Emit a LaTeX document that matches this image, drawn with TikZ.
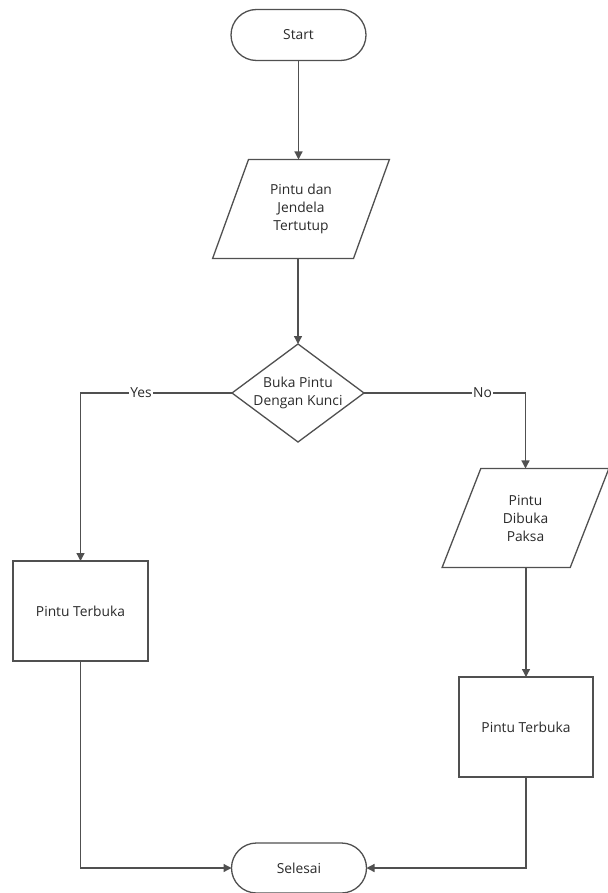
\documentclass[tikz,border=0pt]{standalone}
\usepackage{fontspec}
\setmainfont{Open Sans}
\usetikzlibrary{arrows.meta,shapes.geometric,shapes.misc}
\definecolor{linec}{HTML}{505050}
\definecolor{txtc}{HTML}{2A2A2A}
\begin{document}
\begin{tikzpicture}[x=1pt,y=-1pt,
  base/.style={draw=linec, line width=1.3pt, text=txtc, align=center, inner sep=0pt, outer sep=0pt,
    font=\fontsize{13.8}{18}\selectfont},
  term/.style={base, rounded rectangle, minimum width=135pt, minimum height=51pt},
  io/.style={base, trapezium, trapezium left angle=67, trapezium right angle=113,
    trapezium stretches=true, minimum height=99pt},
  decide/.style={base, diamond, shape aspect=1.35, inner sep=-3pt, minimum width=132pt, minimum height=98pt},
  proc/.style={base, rectangle, minimum width=135pt, minimum height=100pt},
  conn/.style={draw=linec, line width=1.3pt, -{Triangle[length=8pt,width=8pt]}},
  lab/.style={fill=white, text=txtc, inner sep=1pt, font=\fontsize{13.8}{15}\selectfont}]
\useasboundingbox[fill=white] (0,0) rectangle (607,893);
\node[term] (start) at (298.5,35) {Start};
\node[io, minimum width=177pt] (p1) at (301,209) {Pintu dan\\Jendela\\Tertutup};
\node[decide] (d) at (298,393) {Buka Pintu\\Dengan Kunci};
\node[proc] (b1) at (80.5,611) {Pintu Terbuka};
\node[io, minimum width=167pt] (p2) at (525.5,518) {Pintu\\Dibuka\\Paksa};
\node[proc, minimum width=134pt] (b2) at (526,727) {Pintu Terbuka};
\node[term, minimum height=50pt] (end) at (299,868) {Selesai};
\draw[conn] (start.south) -- (start.south |- p1.north);
\draw[conn] (p1.south -| d.north) -- (d.north);
\draw[conn] (d.west) -| node[lab, pos=0.3] {Yes} (b1.north);
\draw[conn] (d.east) -| node[lab, pos=0.367] {No} (p2.north);
\draw[conn] (p2.south -| b2.north) -- (b2.north);
\draw[conn] (b1.south) |- (end.west);
\draw[conn] (b2.south) |- (end.east);
\end{tikzpicture}
\end{document}
